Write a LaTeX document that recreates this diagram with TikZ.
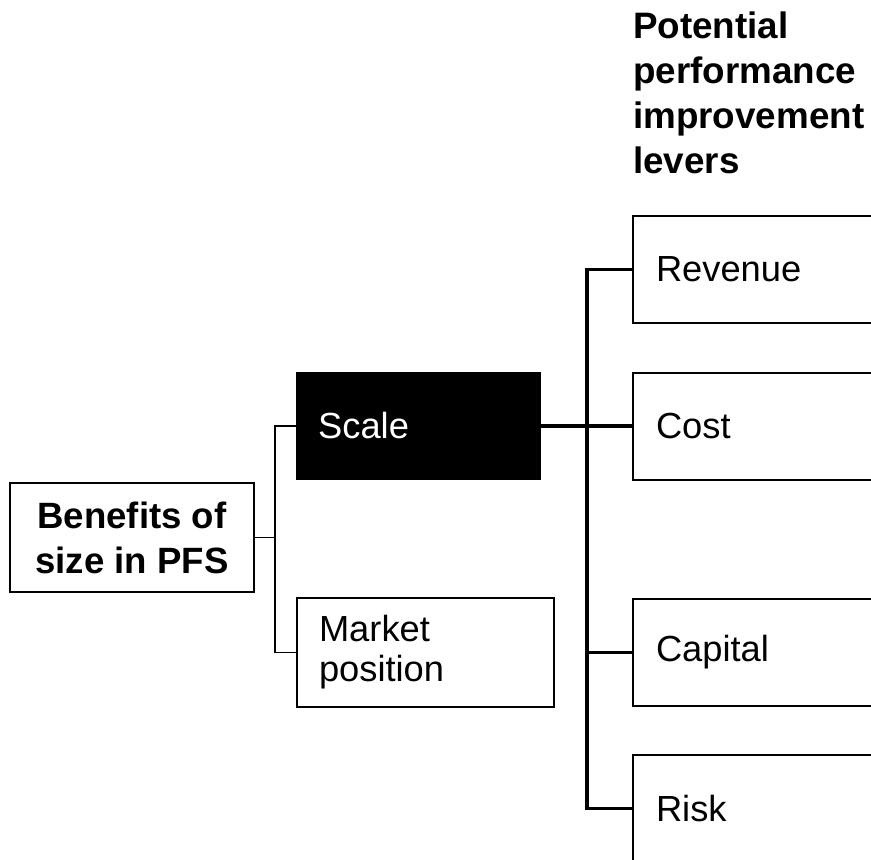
\documentclass[tikz,border=0pt]{standalone}
\usepackage{fontspec}
\setmainfont{Liberation Sans}
\begin{document}
\begin{tikzpicture}[x=1pt,y=-1pt,
  txt/.style={font=\fontsize{36.3}{40}\selectfont},
  btxt/.style={font=\fontsize{36.6}{45}\selectfont\bfseries},
  box/.style={draw=black,line width=2pt,rectangle,inner ysep=0pt,minimum height=107pt,align=left,txt},
  thin/.style={line width=1.6pt,draw=black},
  thick/.style={line width=3.2pt,draw=black}]
\useasboundingbox (0,0) rectangle (871,860);
\clip (0,0) rectangle (871,860);
% heading
\node[anchor=north west,inner sep=0pt,align=left,font=\fontsize{36.8}{45}\selectfont\bfseries] (head) at (633,12) {Potential\\performance\\improvement\\levers};
% left
\node[draw=black,line width=2pt,minimum width=244pt,minimum height=109pt,align=center,btxt,inner sep=0pt] (benefits) at (132,537.5) {Benefits of\\size in PFS};
\node[fill=black,rectangle,anchor=west,minimum width=245pt,minimum height=108pt,inner xsep=22pt,inner ysep=0pt,text width=201pt,align=left,text=white,txt] (scale) at (296,426) {Scale};
\node[box,anchor=west,minimum width=257pt,minimum height=109pt,inner xsep=22pt,text width=213pt] (market) at (296,652.5) {Market\\position};
% right
\node[box,anchor=west,inner xsep=23pt,text width=250pt] (revenue) at (632,269.5) {Revenue};
\node[box,anchor=west,inner xsep=23pt,text width=250pt] (cost) at (632,426) {Cost};
\node[box,anchor=west,inner xsep=23pt,text width=250pt] (capital) at (632,652.5) {Capital};
\node[box,anchor=west,inner xsep=23pt,text width=250pt] (risk) at (632,808.5) {Risk};
% junctions
\coordinate (j1) at (275,537.5);
\coordinate (j2) at (587,426);
% thin connectors
\draw[thin] (benefits.east) -- (j1);
\draw[thin] (scale.west) -| (j1) |- (market.west);
% thick connectors
\draw[thick] (scale.east) -- (cost.west);
\draw[thick] (revenue.west) -| (j2) |- (risk.west);
\draw[thick] (j2) |- (capital.west);
\end{tikzpicture}
\end{document}
